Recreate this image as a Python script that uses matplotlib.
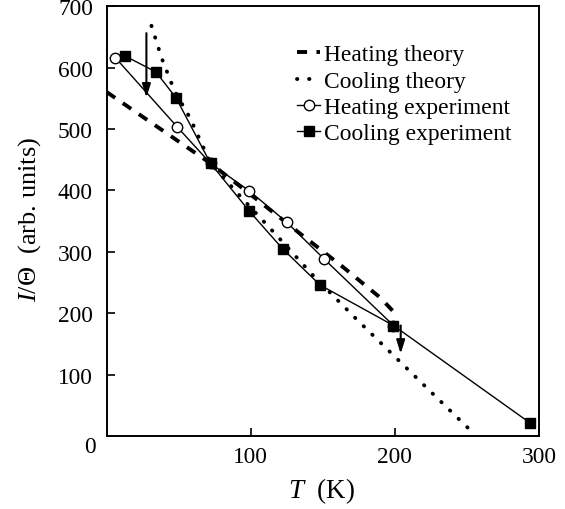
import matplotlib
matplotlib.use("Agg")
import matplotlib.pyplot as plt

plt.rcParams['font.family'] = ['Liberation Serif', 'DejaVu Serif']
plt.rcParams['mathtext.fontset'] = 'custom'
plt.rcParams['mathtext.it'] = 'Liberation Serif:italic'
plt.rcParams['mathtext.rm'] = 'Liberation Serif'

# values
heat_theory_T = [0, 72, 100, 134, 163, 190, 200]
heat_theory_I = [560, 444, 393, 330, 277, 225, 200]

cool_theory_T = [31, 38, 47, 58, 72, 94, 117, 143, 173, 197, 228, 253]
cool_theory_I = [668, 616, 562, 517, 444, 387, 329, 262, 191, 136, 65, 8]

heat_exp_T = [6, 49, 72, 99, 125, 151, 199]
heat_exp_I = [616, 503, 444, 399, 348, 288, 180]

cool_exp_T = [12.5, 34, 48, 72, 99, 122, 148, 199, 294]
cool_exp_I = [619, 593, 551, 444, 366, 305, 246, 180, 21]

# arrows (T, I start -> I end)
cool_arrow = (27.5, 656, 551)
heat_arrow = (204, 180, 134)

fig = plt.figure(figsize=(5.65, 5.10), dpi=100)
ax = fig.add_axes([0.189, 0.143, 0.765, 0.843])

ax.plot(heat_theory_T, heat_theory_I, color='black', lw=2.8,
        linestyle=(0, (2.6, 2.4)), label='Heating theory')
ax.plot(cool_theory_T, cool_theory_I, color='black', lw=2.8,
        linestyle=(0, (0.1, 3.0)), dash_capstyle='round', label='Cooling theory')
ax.plot(heat_exp_T, heat_exp_I, color='black', lw=1.0, marker='o', ms=7.5,
        mfc='white', mec='black', mew=1.0, label='Heating experiment')
ax.plot(cool_exp_T, cool_exp_I, color='black', lw=1.0, marker='s', ms=7,
        mfc='black', mec='black', label='Cooling experiment')

for x, y0, y1 in [cool_arrow, heat_arrow]:
    ax.annotate('', xy=(x, y1), xytext=(x, y0),
                arrowprops=dict(arrowstyle='-|>,head_length=0.8,head_width=0.25',
                                color='black', lw=1.5, shrinkA=0, shrinkB=0))

ax.set_xlim(0, 300)
ax.set_ylim(0, 700)
ax.set_xticks([100, 200, 300])
ax.set_yticks([100, 200, 300, 400, 500, 600, 700])
ax.tick_params(direction='in', length=6, width=1.2, labelsize=16.8)
ax.tick_params(axis='x', pad=7)
ax.tick_params(axis='y', pad=10)
for s in ax.spines.values():
    s.set_linewidth(1.4)
fig.text(90 / 565, 1 - 448 / 510, '0', fontsize=16.8, ha='center', va='center')

ax.set_xlabel(r'$T$  (K)', fontsize=19.5)
ax.xaxis.label.set_va('center')
ax.xaxis.set_label_coords(0.497, -0.126)
ax.set_ylabel(r'$I$/Θ  (arb. units)', fontsize=19)
ax.yaxis.label.set_va('center')
ax.yaxis.set_label_coords(-0.178, 0.505)

leg = ax.legend(loc='upper left', bbox_to_anchor=(0.44, 0.912), frameon=False,
                fontsize=16.9, handlelength=1.0, handletextpad=0.15,
                labelspacing=0.21, borderpad=0, borderaxespad=0)

fig.savefig('out.png', dpi=100)
